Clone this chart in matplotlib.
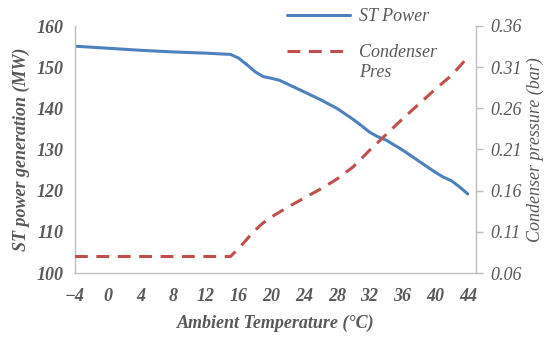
import matplotlib.pyplot as plt

# ambient temperature (C)
temp_power = [-4, 0, 4, 8, 12, 15, 16, 17, 18, 19, 20, 21, 24, 26, 28, 30, 31, 32,
              33, 34, 36, 38, 40, 41, 42, 43, 44]
st_power = [155.1, 154.6, 154.1, 153.7, 153.4, 153.1, 152.2, 150.6, 148.9, 147.7,
            147.3, 146.8, 144.0, 142.1, 140.0, 137.3, 135.8, 134.2, 133.1, 132.3,
            129.9, 127.2, 124.5, 123.3, 122.4, 120.9, 119.2]

temp_pres = [-4, 0, 4, 8, 12, 15, 16, 17, 18, 19, 20, 22, 24, 26, 28, 30, 32, 34,
             36, 38, 40, 42, 44]
cond_pres = [0.08, 0.08, 0.08, 0.08, 0.08, 0.08, 0.090, 0.101, 0.112, 0.121, 0.128,
             0.140, 0.151, 0.162, 0.174, 0.189, 0.209, 0.228, 0.247, 0.265, 0.283,
             0.300, 0.322]

x_ticks = list(range(-4, 45, 4))
left_ticks = [100, 110, 120, 130, 140, 150, 160]
right_ticks = [0.06, 0.11, 0.16, 0.21, 0.26, 0.31, 0.36]

grey = "#595959"
spine = "#BFBFBF"
blue = "#4F81BD"
red = "#C0504D"

plt.rcParams["font.family"] = ["Liberation Serif", "DejaVu Serif"]
plt.rcParams["font.size"] = 13

fig = plt.figure(figsize=(5.48, 3.37), dpi=100)
ax = fig.add_axes([75 / 548, 1 - 273 / 337, (476 - 75) / 548, (273 - 26) / 337])
ax2 = ax.twinx()

l1, = ax.plot(temp_power, st_power, color=blue, lw=2.2, solid_capstyle="round",
              label="ST Power")
l2, = ax2.plot(temp_pres, cond_pres, color=red, lw=2.2, dashes=(4.2, 2.8),
               label="Condenser")

ax.set_xlim(-4, 45)
ax.set_ylim(100, 160)
ax2.set_ylim(0.06, 0.36)
ax.set_xticks(x_ticks)
ax.set_yticks(left_ticks)
ax2.set_yticks(right_ticks)
ax2.set_yticklabels([f"{v:.2f}" for v in right_ticks])

for a in (ax, ax2):
    for s in a.spines.values():
        s.set_color(spine)
        s.set_linewidth(1.0)
    a.spines["top"].set_visible(False)
ax2.spines["left"].set_visible(False)
ax2.spines["bottom"].set_visible(False)
ax.spines["right"].set_visible(False)

ax.tick_params(axis="both", length=0, colors=grey)
ax.tick_params(axis="y", pad=8)
ax.tick_params(axis="x", pad=11)
ax2.tick_params(axis="y", length=5, width=1, color=spine, labelcolor=grey, pad=5)

for t in ax.get_xticklabels() + ax.get_yticklabels():
    t.set_fontstyle("italic")
    t.set_fontweight("bold")
for t in ax2.get_yticklabels():
    t.set_fontstyle("italic")

ax.set_xlabel("Ambient Temperature (°C)", fontstyle="italic", fontweight="bold",
              color=grey, labelpad=7)
ax.set_ylabel("ST power generation (MW)", fontstyle="italic", fontweight="bold",
              color=grey, labelpad=5)
ax2.set_ylabel("Condenser pressure (bar)", fontstyle="italic", color=grey,
               labelpad=4)

leg = fig.legend(handles=[l1, l2], loc="upper left", bbox_to_anchor=(0.507, 1.003),
                 frameon=False, handlelength=3.5, handletextpad=0.5,
                 labelspacing=1.05, borderpad=0.0,
                 prop={"style": "italic", "size": 13})
for t in leg.get_texts():
    t.set_color(grey)
fig.canvas.draw()
ax.annotate("Pres", xy=(0, 0), xycoords=leg.get_texts()[1], xytext=(0, -2),
            textcoords="offset points", va="top", ha="left", color=grey,
            fontstyle="italic", fontsize=13, annotation_clip=False)

fig.savefig("out.png", dpi=100)
